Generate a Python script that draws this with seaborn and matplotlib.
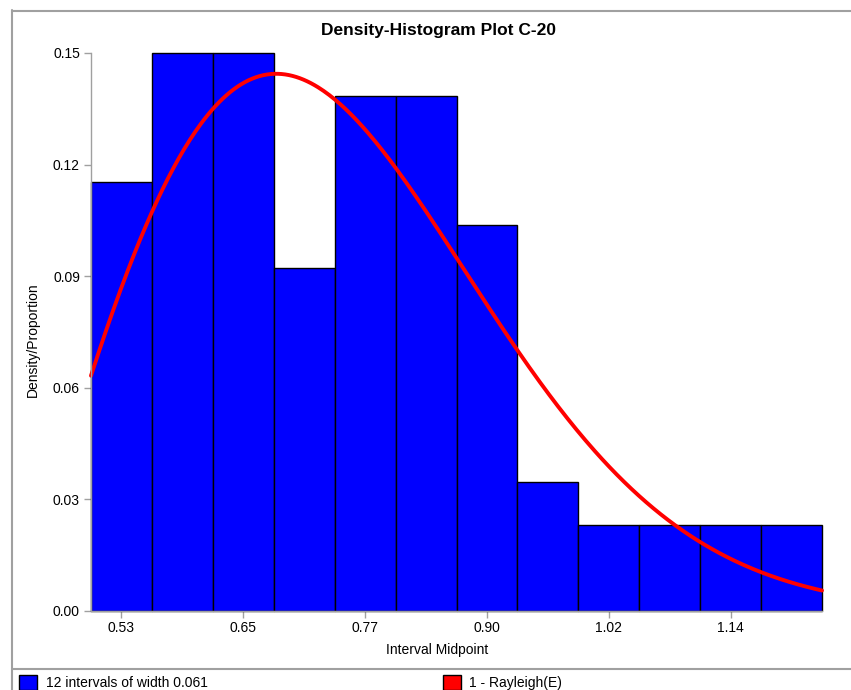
import numpy as np
import pandas as pd
import matplotlib
matplotlib.use("Agg")
import matplotlib.pyplot as plt
import seaborn as sns
from matplotlib.patches import Rectangle
from matplotlib.lines import Line2D
from matplotlib.ticker import FormatStrFormatter

# ---- data ----
bin_start = 0.499
bin_width = 0.061
proportions = [0.1154, 0.1500, 0.1500, 0.0923, 0.1385, 0.1385,
               0.1038, 0.0346, 0.0231, 0.0231, 0.0231, 0.0231]
x_tick_labels = ["0.53", "0.65", "0.77", "0.90", "1.02", "1.14"]
y_ticks = [0.00, 0.03, 0.06, 0.09, 0.12, 0.15]
ray_loc = 0.4283     # fitted Rayleigh location
ray_scale = 0.2562   # fitted Rayleigh scale

title = "Density-Histogram Plot C-20"
x_label = "Interval Midpoint"
y_label = "Density/Proportion"
legend_hist = "12 intervals of width 0.061"
legend_curve = "1 - Rayleigh(E)"

sns.set_style("white")
plt.rcParams['font.family'] = ['Liberation Sans', 'DejaVu Sans']
plt.rcParams['text.color'] = 'black'
plt.rcParams['axes.labelcolor'] = 'black'

W, H = 851, 690
fig = plt.figure(figsize=(W / 100, H / 100), dpi=100)

def px(x, y):
    return x / W, 1 - y / H

ax_l, ax_r, ax_t, ax_b = 91, 822, 53, 611
ax = fig.add_axes([ax_l / W, 1 - ax_b / H, (ax_r - ax_l) / W, (ax_b - ax_t) / H])

n = len(proportions)
edges = bin_start + bin_width * np.arange(n + 1)
mids = bin_start + bin_width * (np.arange(n) + 0.5)
df = pd.DataFrame({"mid": mids, "prop": proportions})

sns.histplot(data=df, x="mid", weights="prop", bins=[float(e) for e in edges],
             stat="count", color="#0000ff", edgecolor="black", linewidth=1.0,
             alpha=1.0, ax=ax)
for p in ax.patches:
    p.set_clip_on(False)

xs = np.linspace(edges[0], edges[-1], 400)
t = xs - ray_loc
curve = bin_width * t / ray_scale ** 2 * np.exp(-t ** 2 / (2 * ray_scale ** 2))
sns.lineplot(x=xs, y=curve, color="#ff0000", linewidth=2.8, ax=ax)
ax.lines[-1].set_clip_on(False)

ax.set_xlim(edges[0], edges[-1])
ax.set_ylim(0, 0.15)
ax.set_xticks(mids[::2])
ax.set_xticklabels(x_tick_labels)
ax.set_yticks(y_ticks)
ax.yaxis.set_major_formatter(FormatStrFormatter('%.2f'))
ax.set_xlabel("")
ax.set_ylabel("")
for s in ["top", "right"]:
    ax.spines[s].set_visible(False)
for s in ["left", "bottom"]:
    ax.spines[s].set_color("#a0a0a0")
    ax.spines[s].set_linewidth(1.0)
ax.tick_params(axis="both", which="major", direction="out", length=5,
               width=1, color="#a0a0a0", labelsize=10, labelcolor="black",
               left=True, bottom=True)
ax.tick_params(axis="x", pad=2.5)
ax.tick_params(axis="y", pad=3)

# titles / labels
fig.text(*px(438, 30), title, ha="center", va="center",
         fontsize=12.5, fontweight="bold", color="black")
fig.text(*px(437, 650), x_label, ha="center", va="center", fontsize=10,
         color="black")
fig.text(*px(33, 340), y_label, ha="center", va="center", fontsize=10,
         rotation=90, color="black")

# frame lines
gray = "#a0a0a0"
fig.add_artist(Line2D([12 / W, 1], [1 - 10.5 / H, 1 - 10.5 / H],
                      color=gray, lw=1.5, transform=fig.transFigure))
fig.add_artist(Line2D([12 / W, 12 / W], [1 - 10 / H, 0],
                      color=gray, lw=1.5, transform=fig.transFigure))
fig.add_artist(Line2D([12 / W, 1], [1 - 669 / H, 1 - 669 / H],
                      color=gray, lw=1.5, transform=fig.transFigure))

# legend row
def swatch(x0, color):
    fig.add_artist(Rectangle((x0 / W, 0), 18 / W, 15 / H, facecolor=color,
                             edgecolor="black", lw=1.0,
                             transform=fig.transFigure))

swatch(19, "#0000ff")
fig.text(*px(46, 683), legend_hist, ha="left", va="center", fontsize=10,
         color="black")
swatch(443, "#ff0000")
fig.text(*px(469, 683), legend_curve, ha="left", va="center", fontsize=10,
         color="black")

fig.savefig("out.png", dpi=100)
